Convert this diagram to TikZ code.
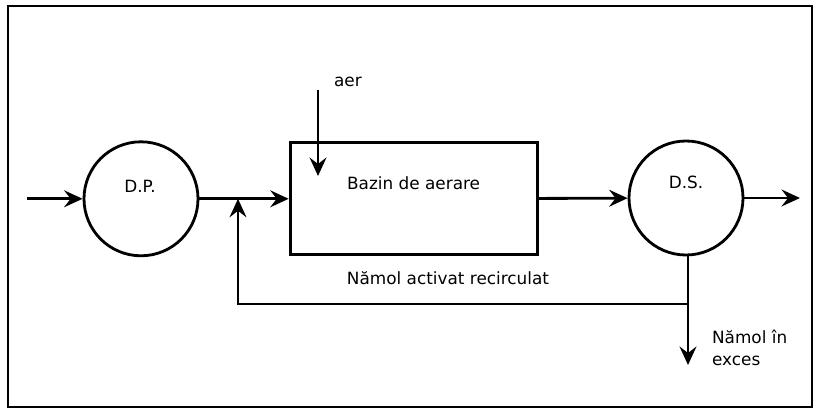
\documentclass[tikz,border=0pt]{standalone}
\usepackage{fontspec}
\setmainfont{DejaVu Sans}
\usetikzlibrary{arrows.meta}

\begin{document}
\begin{tikzpicture}[line width=2pt, >={Stealth[length=4.6mm,width=4.2mm,inset=1.6mm]},
  every node/.style={font=\fontsize{12}{16}\selectfont},
  tank/.style={draw,circle,minimum size=2.85cm,inner sep=0pt},
  basin/.style={draw,minimum width=6.175cm,minimum height=2.8cm,inner sep=0pt}]
  \useasboundingbox (0,0) rectangle (20.35,10.25);
  \draw[line width=1.5pt] (0.2,0.075) rectangle (20.3,10.1);

  % decantoare si bazin
  \node[tank] (dp) at (3.525,5.28) {};
  \node (dptext) at (3.5,5.58) {D.P.};
  \node[basin] (bazin) at (10.34,5.28) {};
  \node (bazintext) at (10.34,5.68) {Bazin de aerare};
  \node[tank] (ds) at (17.15,5.3) {};
  \node (dstext) at (17.15,5.7) {D.S.};

  \coordinate (intrare) at (0.675,5.28);
  \coordinate (iesire) at (20.0,5.3);
  \coordinate (jonctiune) at (5.95,5.28);
  \coordinate (ramificatie) at (17.2,2.65);
  \coordinate (exces) at (17.2,1.125);
  \coordinate (aersus) at (7.95,8.0);
  \coordinate (aerjos) at (7.95,5.85);

  % fluxul principal
  \draw[->] (intrare) -- (dp);
  \draw[->] (dp) -- (bazin);
  \draw[->] (bazin) -- (ds);
  \draw[->] (ds) -- (iesire);

  % aer
  \draw[->] (aersus) -- (aerjos);
  \node[anchor=west] (aer) at (8.2,8.2) {aer};

  % namol recirculat si in exces
  \draw (ds.south -| ramificatie) -- (ramificatie);
  \draw[->] (ramificatie) -- (exces);
  \draw[->] (ramificatie) -| (jonctiune);
  \node (recirc) at (11.2,3.3) {Nămol activat recirculat};
  \node[anchor=west,align=left] (namolexces) at (17.65,1.55) {Nămol în\\exces};
\end{tikzpicture}
\end{document}
